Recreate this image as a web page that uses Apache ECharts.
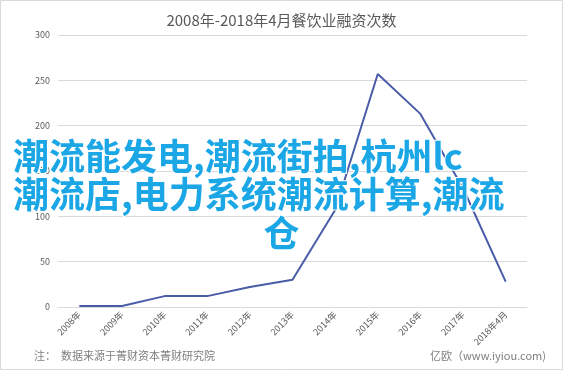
<!DOCTYPE html>
<html><head><meta charset="utf-8">
<script src="https://cdn.jsdelivr.net/npm/echarts@6/dist/echarts.min.js"></script>
<style>html,body{margin:0;padding:0;background:#fff}#c{width:563px;height:370px}</style>
</head><body><div id="c"></div>
<script>
var titleText = '2008年-2018年4月餐饮业融资次数';
var categories = ['2008年','2009年','2010年','2011年','2012年','2013年','2014年','2015年','2016年','2017年','2018年4月'];
var counts = [1, 1, 12, 12, 22, 30, 107, 257, 213, 131, 28];
var yTicks = {min: 0, max: 300, interval: 50};
var overlayLines = ['潮流能发电,潮流街拍,杭州lc', '潮流店,电力系统潮流计算,潮流', '仓'];
var noteText = '注：  数据来源于菁财资本菁财研究院';
var sourceText = '亿欧（www.iyiou.com)';

var chart = echarts.init(document.getElementById('c'));
var font = '"Noto Sans CJK SC", "Noto Sans", sans-serif';
var overlayStyle = {
  font: 'bold 36px ' + font,
  fill: '#1ba6e6',
  stroke: '#ffffff',
  lineWidth: 2
};
chart.setOption({
  animation: false,
  title: {
    text: titleText, left: 'center', top: 8,
    textStyle: {fontSize: 15, fontWeight: 'normal', color: '#595959', fontFamily: font}
  },
  grid: {left: 58, right: 36, top: 35, bottom: 63},
  xAxis: {
    type: 'category', data: categories, boundaryGap: true,
    axisLine: {lineStyle: {color: '#d9d9d9'}},
    axisTick: {show: false},
    axisLabel: {rotate: 45, fontSize: 9, color: '#595959', margin: 6, fontFamily: font}
  },
  yAxis: {
    type: 'value', min: yTicks.min, max: yTicks.max, interval: yTicks.interval,
    axisLine: {show: false}, axisTick: {show: false},
    axisLabel: {fontSize: 9, color: '#595959', margin: 8, fontFamily: font},
    splitLine: {lineStyle: {color: '#d9d9d9'}}
  },
  series: [{
    type: 'line', data: counts, showSymbol: false, symbol: 'none',
    lineStyle: {color: '#4a5ca8', width: 2}
  }],
  graphic: [
    {type: 'rect', shape: {x: 0.5, y: 0.5, width: 562, height: 369}, style: {fill: 'none', stroke: '#d9d9d9', lineWidth: 1}, z: 100},
    {type: 'text', left: 34, top: 350, style: {text: noteText, font: '11px ' + font, fill: '#7f7f7f'}},
    {type: 'text', right: 17, top: 350, style: {text: sourceText, font: '11px ' + font, fill: '#7f7f7f'}},
    {type: 'text', left: 12, top: 137, z: 200, style: Object.assign({text: overlayLines[0]}, overlayStyle)},
    {type: 'text', left: 12, top: 175, z: 200, style: Object.assign({text: overlayLines[1]}, overlayStyle)},
    {type: 'text', left: 'center', top: 214, z: 200, style: Object.assign({text: overlayLines[2]}, overlayStyle)}
  ]
});
</script></body></html>
